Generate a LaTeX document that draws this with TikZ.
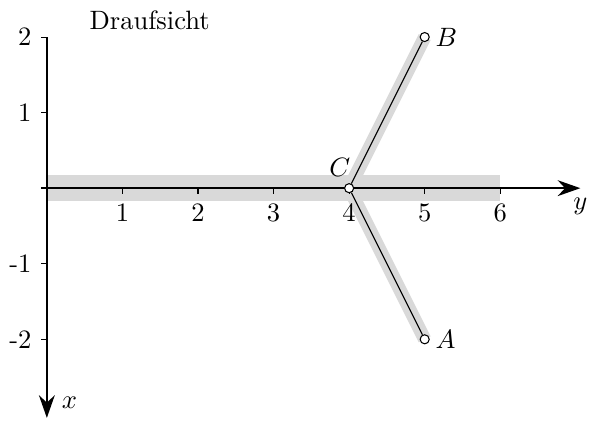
\documentclass[tikz,border=0pt]{standalone}
\usepackage{tikz}
\usetikzlibrary{arrows.meta}

\begin{document}
\begin{tikzpicture}[x=1cm, y=1cm,
			>={Stealth[length=3mm, width=2.1mm]},   %Pfeilspitzen
			punkt/.style={circle, draw, fill=white, inner sep=0pt, minimum size=1.2mm},
			balken/.style={draw=gray!30, line width=#1}]
			%Bildbereich
			\useasboundingbox (-0.62,-3.07) rectangle (7.32,2.49);
			% Punkte festlegen
			\coordinate (pA) at (5,-2);
			\coordinate (pB) at (5,2);
			\coordinate (pC) at (4,0);
			% Balken zeichnen
			\draw[balken=10pt] (0,0) -- (6,0);
			\draw[balken=5pt] (pC) -- (pB);
			\draw[balken=5pt] (pC) -- (pA);
			% Achsen zeichnen
			\draw[->, semithick] (-0.08,0) -- (7.06,0) node[below] (achseY) {$y$};
			\draw[->, semithick] (0,2) -- (0,-3.04) node[above right, xshift=2pt] (achseX) {$x$};
			% Achsen beschriften
			\foreach \y in {1,...,6} \draw (\y,0) -- (\y,-0.08) node[below] {\y};
			\foreach \x in {-2,-1,1,2} \draw (0,\x) -- (-0.08,\x) node[left] {\x};
			% Stabe und Knoten
			\node[punkt, label={[inner sep=0pt, xshift=2pt, yshift=3pt]above left:$C$}] (C) at (pC) {};
			\node[punkt, label={[inner sep=2pt]right:$B$}] (B) at (pB) {};
			\node[punkt, label={[inner sep=2pt]right:$A$}] (A) at (pA) {};
			\draw (C) -- (B);
			\draw (C) -- (A);
			%Beschriftung
			\node (titel) at (1.36,2.22) {Draufsicht};
		\end{tikzpicture}
\end{document}
